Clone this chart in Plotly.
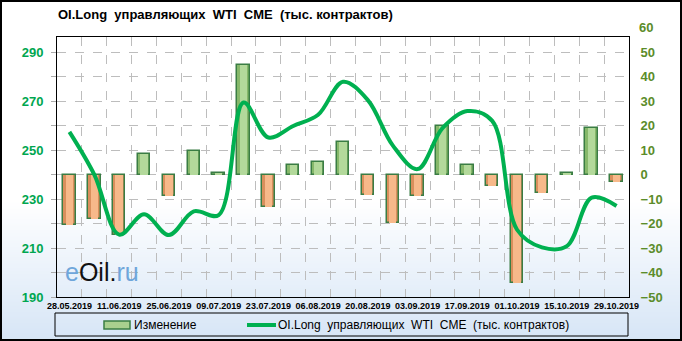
import base64, struct, zlib
import plotly.graph_objects as go

# ---------------- data ----------------
dates = ["2019-05-28", "2019-06-04", "2019-06-11", "2019-06-18", "2019-06-25", "2019-07-02",
         "2019-07-09", "2019-07-16", "2019-07-23", "2019-07-30", "2019-08-06", "2019-08-13",
         "2019-08-20", "2019-08-27", "2019-09-03", "2019-09-10", "2019-09-17", "2019-09-24",
         "2019-10-01", "2019-10-08", "2019-10-15", "2019-10-22", "2019-10-29"]
change = [-20.5, -18.0, -24.5, 8.5, -8.7, 9.7, 0.5, 45.0, -13.4, 4.0, 5.0, 13.2,
          -8.5, -19.8, -8.9, 20.0, 3.8, -4.7, -44.3, -7.5, 0.8, 18.9, -3.0]
oi_long = [257.5, 240.0, 215.5, 223.8, 215.3, 225.0, 223.5, 269.5, 255.2, 259.9, 264.5, 278.0,
           270.5, 252.0, 242.3, 259.0, 266.0, 262.0, 217.5, 210.3, 210.8, 230.6, 227.2]
title_text = "OI.Long&nbsp; управляющих&nbsp; WTI&nbsp; CME&nbsp; (тыс. контрактов)"
bar_name = "Изменение"
line_name = "OI.Long&nbsp; управляющих&nbsp; WTI&nbsp; CME&nbsp; (тыс. контрактов)"

# ---------------- geometry ----------------
W, H = 682, 341
L, R, T, B = 57, 53, 37, 44
PW, PH = W - L - R, H - T - B


def px(x):
    return (x - L) / PW


def py(y):
    return (H - B - y) / PH


# gradient background png
def make_png(rows, width):
    raw = b"".join(b"\x00" + r for r in rows)

    def chunk(tag, data):
        c = struct.pack(">I", len(data)) + tag + data
        return c + struct.pack(">I", zlib.crc32(tag + data) & 0xffffffff)
    ihdr = struct.pack(">IIBBBBB", width, len(rows), 8, 2, 0, 0, 0)
    return (b"\x89PNG\r\n\x1a\n" + chunk(b"IHDR", ihdr) +
            chunk(b"IDAT", zlib.compress(raw)) + chunk(b"IEND", b""))


rows = []
top_c, bot_c = (255, 255, 255), (214, 229, 246)
for yy in range(H):
    t = min(max((yy - 200) / (H - 200), 0), 1)
    c = tuple(int(round(top_c[k] + (bot_c[k] - top_c[k]) * t)) for k in range(3))
    rows.append(bytes(c))
bg_uri = "data:image/png;base64," + base64.b64encode(make_png(rows, 1)).decode()

GREEN = "#00B050"
WEEK = 7 * 86400000
edge_colors = ["#86b86a" if v >= 0 else "#d98f5c" for v in change]
face_colors = ["#b3d99b" if v >= 0 else "#f7b98a" for v in change]

fig = go.Figure()
fig.add_trace(go.Bar(
    x=dates, y=change, yaxis="y", name=bar_name, showlegend=False,
    width=0.5 * WEEK,
    marker=dict(color=edge_colors, line=dict(color="#3a7d44", width=1.5)),
))
fig.add_trace(go.Bar(
    x=dates, y=change, yaxis="y", name=bar_name, showlegend=False, hoverinfo="skip",
    width=0.3 * WEEK,
    marker=dict(color=face_colors, line=dict(width=0)),
))
fig.add_trace(go.Scatter(
    x=dates, y=oi_long, yaxis="y2", name=line_name, mode="lines", showlegend=False,
    line=dict(color=GREEN, width=4, shape="spline", smoothing=1.0),
))

fig.update_layout(
    width=W, height=H,
    margin=dict(l=L, r=R, t=T, b=B, pad=0),
    paper_bgcolor="white", plot_bgcolor="rgba(0,0,0,0)",
    bargap=0, barmode="overlay",
    xaxis=dict(
        type="date", range=["2019-05-24 12:00", "2019-11-01 12:00"],
        tick0="2019-05-28", dtick=2 * WEEK, tickformat="%d.%m.%Y",
        tickfont=dict(family="Liberation Sans, Arial, sans-serif", size=9, color="black", weight="bold"),
        showgrid=False, showline=True, linecolor="black", linewidth=1, mirror=True,
        ticks="", zeroline=False,
        minor=dict(tick0="2019-05-31 12:00", dtick=WEEK, showgrid=True,
                   gridcolor="#bdbdbd", griddash="dash", gridwidth=1),
    ),
    yaxis=dict(
        side="right", range=[-50, 56.3], dtick=10, tick0=0,
        tickfont=dict(family="Liberation Sans, Arial, sans-serif", size=13, color="#5B8C2A", weight="bold"),
        showgrid=True, gridcolor="#bdbdbd", griddash="dash", gridwidth=1,
        showline=True, linecolor="black", linewidth=1, mirror=True,
        zeroline=False, ticks="outside", ticklen=8, tickcolor="rgba(0,0,0,0)",
    ),
    yaxis2=dict(
        side="left", overlaying="y", range=[190, 296.3], dtick=20, tick0=190,
        tickfont=dict(family="Liberation Sans, Arial, sans-serif", size=13, color="#00A650", weight="bold"),
        showgrid=False, zeroline=False, showline=False,
        ticks="outside", ticklen=5, tickcolor="#aaaaaa", ticklabelstandoff=5,
        minor=dict(dtick=10, ticks="outside", ticklen=5, tickcolor="#aaaaaa"),
    ),
    images=[dict(source=bg_uri, xref="paper", yref="paper", x=px(0), y=py(0),
                 sizex=W / PW, sizey=H / PH, sizing="stretch", xanchor="left",
                 yanchor="top", layer="below")],
)

shapes = []
# outer border
shapes.append(dict(type="rect", xref="paper", yref="paper", x0=px(1), x1=px(681), y0=py(1), y1=py(340),
                   line=dict(color="black", width=2)))
# legend box
shapes.append(dict(type="rect", xref="paper", yref="paper", x0=px(55), x1=px(628), y0=py(313), y1=py(336),
                   line=dict(color="black", width=1)))
# legend bar swatch
shapes.append(dict(type="rect", xref="paper", yref="paper", x0=px(104), x1=px(130), y0=py(321), y1=py(329),
                   fillcolor="#a9d08e", line=dict(color="#3a7d44", width=1.5)))
# legend line swatch
shapes.append(dict(type="line", xref="paper", yref="paper", x0=px(247), x1=px(276), y0=py(325), y1=py(325),
                   line=dict(color=GREEN, width=4)))
fig.update_layout(shapes=shapes)

annos = []
annos.append(dict(text="<b>" + title_text + "</b>", xref="paper", yref="paper", x=px(56), y=py(14),
                  xanchor="left", yanchor="middle", showarrow=False,
                  font=dict(family="Liberation Sans, Arial, sans-serif", size=13, color="black")))
annos.append(dict(text=bar_name, xref="paper", yref="paper", x=px(132), y=py(325),
                  xanchor="left", yanchor="middle", showarrow=False,
                  font=dict(family="Liberation Sans, Arial, sans-serif", size=12, color="black")))
annos.append(dict(text=line_name, xref="paper", yref="paper", x=px(276), y=py(325),
                  xanchor="left", yanchor="middle", showarrow=False,
                  font=dict(family="Liberation Sans, Arial, sans-serif", size=12, color="black")))
# right-axis "60" label (sits above the plot frame in the original)
annos.append(dict(text="<b>60</b>", xref="paper", yref="paper", x=px(637), y=py(28),
                  xanchor="left", yanchor="middle", showarrow=False,
                  font=dict(family="Liberation Sans, Arial, sans-serif", size=13, color="#5B8C2A")))
# watermark
annos.append(dict(text="<span style='color:#6fa6da'>e</span><span style='color:#111'>Oil</span>"
                       "<span style='color:#111'>.</span><span style='color:#6fa6da'>ru</span>",
                  xref="paper", yref="paper", x=px(63), y=py(272), xanchor="left", yanchor="middle",
                  showarrow=False,
                  font=dict(family="Liberation Sans, Arial, sans-serif", size=25)))
fig.update_layout(annotations=annos)

fig.write_html("out.html")
